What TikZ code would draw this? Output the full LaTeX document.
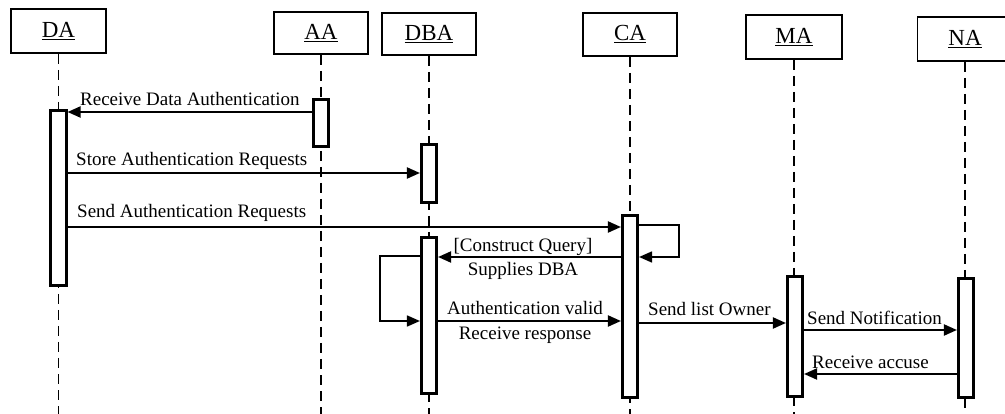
\documentclass[tikz,border=0pt]{standalone}
\usepackage{fontspec}
\setmainfont{Liberation Serif}
\usetikzlibrary{arrows.meta}
\begin{document}
\begin{tikzpicture}[x=1pt,y=-1pt,
  head/.style={draw, line width=1.6pt, inner sep=0pt, font=\fontsize{23}{26}\selectfont},
  act/.style={draw, fill=white, line width=2.6pt, minimum width=15.5pt, inner sep=0pt},
  life/.style={line width=1.4pt, dash pattern=on 10pt off 6pt},
  msg/.style={line width=2pt, -{Triangle[length=13pt,width=11pt]}},
  loopmsg/.style={line width=1.7pt, -{Triangle[length=13pt,width=11pt]}},
  lbl/.style={inner sep=0pt, font=\fontsize{19}{22}\selectfont}]
\useasboundingbox (0,0) rectangle (1005,414);
\clip (0,0) rectangle (1005,414);
% headers
\node[head, minimum width=95.4pt, minimum height=44.4pt] (hDA) at (58.5,31) {\underline{DA}};
\node[head, minimum width=94.4pt, minimum height=42.4pt] (hAA) at (321,33) {\underline{AA}};
\node[head, minimum width=94.4pt, minimum height=42.4pt] (hDBA) at (429,34) {\underline{DBA}};
\node[head, minimum width=94.4pt, minimum height=43.4pt] (hCA) at (630,34.5) {\underline{CA}};
\node[head, minimum width=96.4pt, minimum height=44.4pt] (hMA) at (794,37) {\underline{MA}};
\node[head, minimum width=95.4pt, minimum height=44.4pt] (hNA) at (965,39) {\underline{NA}};
% lifelines
\draw[life] (hDA.south) -- (hDA.south |- 0,414);
\draw[life] (hAA.south) -- (hAA.south |- 0,414);
\draw[life] (hDBA.south) -- (hDBA.south |- 0,414);
\draw[life] (hCA.south) -- (hCA.south |- 0,414);
\draw[life] (hMA.south) -- (hMA.south |- 0,414);
\draw[life] (hNA.south) -- (hNA.south |- 0,414);
% activations
\node[act, minimum height=175.5pt] (daAct) at (58.5,198) {};
\node[act, minimum height=47.5pt] (aaAct) at (321,123) {};
\node[act, minimum height=58.5pt] (dbaAct1) at (429,173.5) {};
\node[act, minimum height=156.5pt] (dbaAct2) at (429,315.5) {};
\node[act, minimum height=182.5pt] (caAct) at (630,306.5) {};
\node[act, minimum height=120.5pt] (maAct) at (795,336.5) {};
\node[act, minimum height=119.5pt] (naAct) at (966,338) {};
% messages
\draw[msg] (aaAct.west |- 0,112) -- (daAct.east |- 0,112);
\node[lbl, anchor=base west] (l1) at (80,106) {Receive Data Authentication};
\draw[msg] (daAct.east |- 0,173) -- (dbaAct1.west |- 0,173);
\node[lbl, anchor=base west] (l2) at (76,166) {Store Authentication Requests};
\draw[msg] (daAct.east |- 0,227) -- (caAct.west |- 0,227);
\node[lbl, anchor=base west] (l3) at (77,218) {Send Authentication Requests};
\draw[loopmsg] (caAct.east |- 0,225) -- ++(40,0) -- ++(0,32) -- (caAct.east |- 0,257);
\draw[msg] (caAct.west |- 0,257) -- (dbaAct2.east |- 0,257);
\node[lbl, anchor=base] (l4) at (523,252) {[Construct Query]};
\node[lbl, anchor=base] (l5) at (523,276) {Supplies DBA};
\draw[loopmsg] (dbaAct2.west |- 0,256) -- ++(-40,0) -- ++(0,65) -- (dbaAct2.west |- 0,321);
\draw[msg] (dbaAct2.east |- 0,321) -- (caAct.west |- 0,321);
\node[lbl, anchor=base] (l6) at (525,315) {Authentication valid};
\node[lbl, anchor=base] (l7) at (525,340) {Receive response};
\draw[msg] (caAct.east |- 0,323) -- (maAct.west |- 0,323);
\node[lbl, anchor=base west] (l8) at (648,316) {Send list Owner};
\draw[msg] (maAct.east |- 0,330) -- (naAct.west |- 0,330);
\node[lbl, anchor=base west] (l9) at (807,325) {Send Notification};
\draw[msg] (naAct.west |- 0,374) -- (maAct.east |- 0,374);
\node[lbl, anchor=base west] (l10) at (812,368) {Receive accuse};
\end{tikzpicture}
\end{document}
